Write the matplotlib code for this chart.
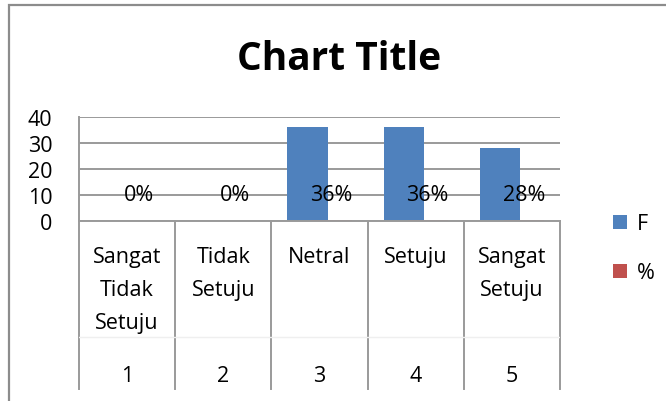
import matplotlib
matplotlib.use("Agg")
import matplotlib.pyplot as plt
from matplotlib.patches import Rectangle
import numpy as np

plt.rcParams['font.family'] = ['Open Sans', 'DejaVu Sans']

# data
categories = ["Sangat\nTidak\nSetuju", "Tidak\nSetuju", "Netral", "Setuju", "Sangat\nSetuju"]
codes = ["1", "2", "3", "4", "5"]
freq = [0, 0, 36, 36, 28]
pct = [0.0, 0.0, 0.36, 0.36, 0.28]

blue = "#4F81BD"
red = "#C0504D"
grid_c = "#9A9A9A"
fs = 15.5

W, H = 666, 402
fig = plt.figure(figsize=(W / 100, H / 100), dpi=100)

# outer chart frame (partially cut off like the reference)
fig.patches.append(Rectangle((9 / W, -0.2), 1.2, (H - 6) / H + 0.2, transform=fig.transFigure,
                             fill=False, edgecolor="#8C8C8C", linewidth=1.6))

fig.text(339 / W, 1 - 60 / H, "Chart Title", ha="center", va="center",
         fontsize=28, fontweight="bold")

left, right = 79 / W, 560 / W
ax = fig.add_axes([left, 1 - 222 / H, right - left, 104 / H])
x = np.arange(1, len(freq) + 1)
bw = 40 / 96
off = 12 / 96
b1 = ax.bar(x - off, freq, bw, color=blue, label="F", zorder=3)
b2 = ax.bar(x + off, pct, bw, color=red, label="%", zorder=3)
for xi, p in zip(x, pct):
    ax.text(xi + off, 10, f"{p:.0%}", ha="center", va="center", fontsize=fs, zorder=4)

ax.set_xlim(0.5, 5.5)
ax.set_ylim(0, 40)
ax.set_yticks([0, 10, 20, 30, 40])
ax.yaxis.grid(True, color=grid_c, linewidth=1.4)
ax.set_axisbelow(True)
ax.tick_params(axis="y", length=0, pad=19, labelsize=fs)
ax.set_xticks([])
for s in ["top", "right", "bottom"]:
    ax.spines[s].set_visible(False)
ax.spines["left"].set_color(grid_c)
ax.spines["left"].set_linewidth(1.4)

# multi-level category table below the plot
tab = fig.add_axes([left, 1 - 390 / H, right - left, 168 / H])
tab.set_xlim(0.5, 5.5)
tab.set_ylim(0, 168)
tab.axis("off")
for b in np.arange(0.5, 5.6, 1):
    tab.plot([b, b], [0, 168], color=grid_c, linewidth=1.4, clip_on=False)
tab.plot([0.5, 5.5], [168, 168], color=grid_c, linewidth=1.4, clip_on=False)
tab.plot([0.5, 5.5], [52, 52], color="#EFEFEF", linewidth=1.0)
for xi, c, k in zip(x, categories, codes):
    tab.text(xi, 143, c, ha="center", va="top", fontsize=fs, linespacing=1.75)
    tab.text(xi, 13, k, ha="center", va="center", fontsize=fs)

fig.legend(handles=[b1, b2], labels=["F", "%"], loc="upper left",
           bbox_to_anchor=(594 / W, 1 - 195 / H), frameon=False, fontsize=fs,
           handlelength=0.65, handleheight=0.65, handletextpad=0.45, labelspacing=1.3)

fig.savefig("out.png", dpi=100)
